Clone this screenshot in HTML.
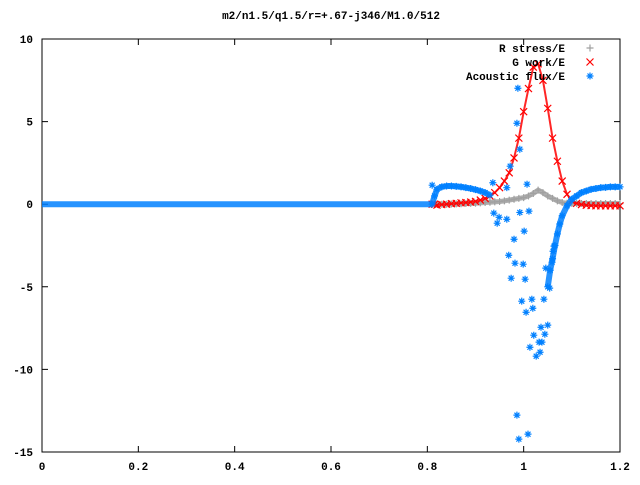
<!DOCTYPE html>
<html><head><meta charset="utf-8"><style>
body{margin:0;background:#fff}
svg text{font-family:"Liberation Mono",monospace;font-size:11px;font-weight:bold;fill:#000}
</style></head><body>
<svg id="chart" width="640" height="480" xmlns="http://www.w3.org/2000/svg">
<rect width="640" height="480" fill="#fff"/>
<text x="331" y="19" text-anchor="middle">m2/n1.5/q1.5/r=+.67-j346/M1.0/512</text>
<g id="axes"></g>
<g id="series"></g>
<g id="legend"></g>
</svg>
<script>
const xTicks=[0,0.2,0.4,0.6,0.8,1,1.2];
const xTickLabels=["0","0.2","0.4","0.6","0.8","1","1.2"];
const yTicks=[10,5,0,-5,-10,-15];
const yTickLabels=["10","5","0","-5","-10","-15"];
const xs=[0.81,0.815,0.82,0.83,0.84,0.85,0.86,0.87,0.88,0.89,0.9,0.91,0.92,0.93,0.94,0.95,0.96,0.97,0.98,0.99,1.0,1.01,1.02,1.03,1.04,1.05,1.06,1.07,1.08,1.09,1.1,1.11,1.12,1.13,1.14,1.15,1.16,1.17,1.18,1.19,1.2];
const rStress=[0,0,0,0,0,0.01,0.02,0.03,0.04,0.05,0.06,0.08,0.1,0.12,0.14,0.16,0.2,0.25,0.3,0.35,0.4,0.5,0.65,0.85,0.7,0.5,0.35,0.2,0.1,0.06,0.05,0.04,0.04,0.04,0.04,0.04,0.04,0.04,0.04,0.04,0.04];
const gWork=[0,0,-0.05,-0.02,0,0.03,0.05,0.08,0.1,0.13,0.17,0.25,0.35,0.5,0.7,1.0,1.4,1.9,2.8,4.0,5.6,7.0,8.3,8.5,7.5,5.8,4.0,2.6,1.4,0.6,0.2,0.05,-0.02,-0.06,-0.08,-0.1,-0.1,-0.1,-0.1,-0.1,-0.1];
const fluxLeftX=[0.81,0.815,0.82,0.83,0.84,0.85,0.86,0.87,0.88,0.89,0.9,0.91,0.92,0.93];
const fluxLeft=[0,0.5,0.9,1.05,1.1,1.1,1.08,1.05,1.0,0.95,0.88,0.8,0.7,0.55];
const fluxRightX=[1.05,1.055,1.06,1.065,1.07,1.075,1.08,1.09,1.1,1.11,1.12,1.13,1.14,1.15,1.16,1.17,1.18,1.19,1.2];
const fluxRight=[-5.0,-4.0,-3.3,-2.5,-1.8,-1.2,-0.7,-0.1,0.3,0.5,0.7,0.8,0.9,0.95,1.0,1.02,1.05,1.05,1.05];
const fluxScatterX=[0.81,0.938,0.945,0.949,0.965,0.969,0.972,0.974,0.980,0.982,0.986,0.988,0.990,0.992,0.996,0.999,1.001,1.003,1.005,1.007,1.009,1.011,1.013,1.017,1.019,1.021,1.026,1.032,1.034,1.036,1.038,1.042,1.044,1.046,1.050,0.986,0.992,0.936,0.965,1.054,1.059,1.061,1.063];
const fluxScatter=[1.15,-0.54,-1.15,-0.79,-0.91,-3.09,2.3,-4.48,-2.12,-3.57,4.9,7.02,-14.22,3.33,-5.87,-3.63,-1.63,-4.54,-6.54,1.21,-13.92,-0.42,-8.66,-5.75,-6.3,-7.93,-9.2,-8.35,-8.96,-7.45,-8.35,-5.75,-7.87,-3.87,-7.32,-12.77,-0.5,1.3,1.0,-5.08,-3.51,-2.85,-2.54];

const X0=42,X1=620,Y0=39,Y1=452;
const sx=v=>X0+(v-0)/(1.2-0)*(X1-X0);
const sy=v=>Y1-(v-(-15))/(10-(-15))*(Y1-Y0);
const NS="http://www.w3.org/2000/svg";
function mk(tag,attrs,parent){const e=document.createElementNS(NS,tag);for(const k in attrs)e.setAttribute(k,attrs[k]);parent.appendChild(e);return e;}
const axes=document.getElementById('axes'),ser=document.getElementById('series'),leg=document.getElementById('legend');

let r=mk('rect',{x:X0,y:Y0,width:X1-X0,height:Y1-Y0,fill:'none',stroke:'#000','stroke-width':1},axes);


xTicks.forEach((t,i)=>{const x=sx(t);
 let l=mk('path',{d:`M${x},${Y1}v-6M${x},${Y0}v6`,stroke:'#000'},axes);
 
 
 let tx=mk('text',{x:x,y:470,'text-anchor':'middle'},axes);tx.textContent=xTickLabels[i];
 
 
});
yTicks.forEach((t,i)=>{const y=sy(t);
 let l=mk('path',{d:`M${X0},${y}h6M${X1},${y}h-6`,stroke:'#000'},axes);
 
 
 let tx=mk('text',{x:33,y:y+4,'text-anchor':'end'},axes);tx.textContent=yTickLabels[i];
 
 
});

function marker(kind,x,y,color,g){
 let d;const s=3.5;
 if(kind==='+')d=`M${x-s},${y}h${2*s}M${x},${y-s}v${2*s}`;
 else if(kind==='x')d=`M${x-s},${y-s}l${2*s},${2*s}M${x-s},${y+s}l${2*s},${-2*s}`;
 else d=`M${x-s},${y}h${2*s}M${x},${y-s}v${2*s}M${x-s+1},${y-s+1}l${2*s-2},${2*s-2}M${x-s+1},${y+s-1}l${2*s-2},${-2*s+2}`;
 const p=mk('path',{d:d,stroke:color,'stroke-width':1.2,fill:'none'},g);
 
 
}
function band(xa,ya,color,g,w){
 const pts=xa.map((v,i)=>sx(v)+','+sy(ya[i])).join(' ');
 const pl=mk('polyline',{points:pts,fill:'none',stroke:color,'stroke-width':w,'stroke-linejoin':'round','stroke-opacity':0.85},g);
 
 
}
const gB=mk('g',{},ser);


const gG=mk('g',{},ser);


const gR=mk('g',{},ser);


band([0,0.81],[0,0],'#0080ff',gB,6);
band(xs,rStress,'#a0a0a0',gG,5);
xs.forEach((v,i)=>marker('+',sx(v),sy(rStress[i]),'#a0a0a0',gG));
band(xs,gWork,'#ff0000',gR,2);
xs.forEach((v,i)=>marker('x',sx(v),sy(gWork[i]),'#ff0000',gR));
band(fluxLeftX,fluxLeft,'#0080ff',gB,6);
band(fluxRightX,fluxRight,'#0080ff',gB,6);
fluxLeftX.forEach((v,i)=>marker('*',sx(v),sy(fluxLeft[i]),'#0080ff',gB));
fluxRightX.forEach((v,i)=>marker('*',sx(v),sy(fluxRight[i]),'#0080ff',gB));
fluxScatterX.forEach((v,i)=>marker('*',sx(v),sy(fluxScatter[i]),'#0080ff',gB));
ser.appendChild(gB);

const legNames=["R stress/E","G work/E","Acoustic flux/E"];
const legKinds=['+','x','*'],legColors=['#a0a0a0','#ff0000','#0080ff'];
legNames.forEach((n,i)=>{const y=48+i*14;
 const t=mk('text',{x:565,y:y+4,'text-anchor':'end'},leg);t.textContent=n;
 
 
 marker(legKinds[i],590,y,legColors[i],leg);
});
</script>
</body></html>
